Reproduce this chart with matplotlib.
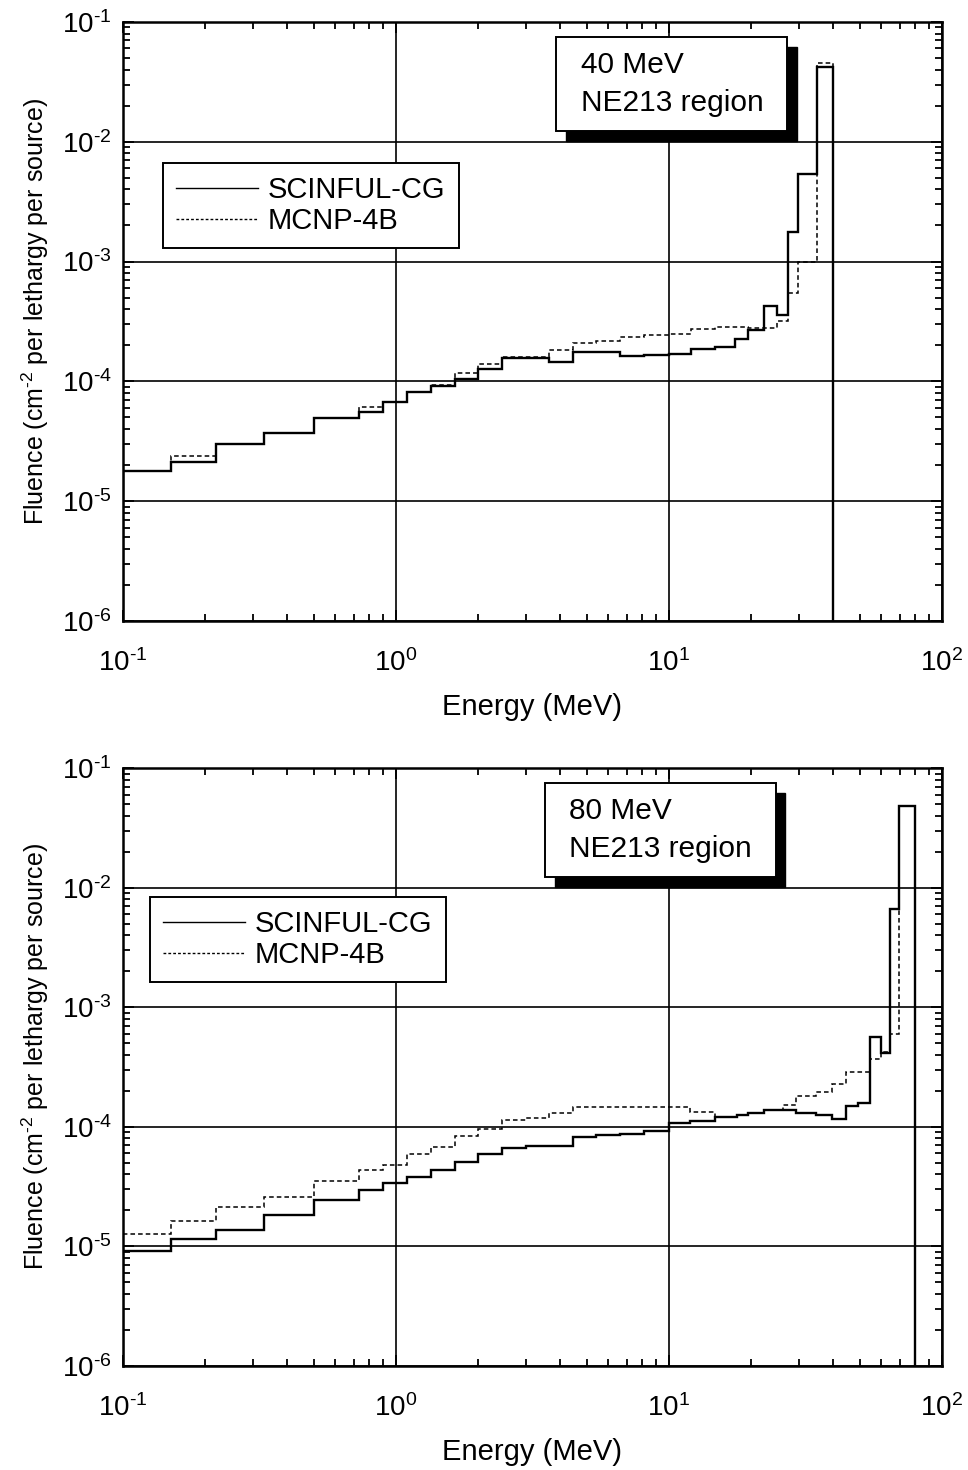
import numpy as np
import matplotlib.pyplot as plt
from matplotlib.patches import Rectangle
from matplotlib.lines import Line2D
from matplotlib.ticker import FuncFormatter

plt.rcParams['font.family'] = ['Liberation Sans', 'DejaVu Sans']
plt.rcParams['mathtext.fontset'] = 'custom'
plt.rcParams['mathtext.rm'] = 'Liberation Sans'
plt.rcParams['mathtext.it'] = 'Liberation Sans:italic'
plt.rcParams['mathtext.bf'] = 'Liberation Sans:bold'
plt.rcParams['axes.unicode_minus'] = False

# 40 MeV panel: bin edges (MeV) and fluence per lethargy
edges_40 = [0.1, 0.15, 0.22, 0.33, 0.5, 0.73, 0.9, 1.1, 1.35, 1.65, 2.0, 2.45, 3.0,
            3.65, 4.45, 5.4, 6.6, 8.1, 10, 12.1, 14.7, 17.4, 19.5, 22.4, 24.9, 27.3,
            29.8, 34.8, 40]
scinful_40 = [1.79e-5, 2.14e-5, 3.0e-5, 3.68e-5, 4.98e-5, 5.58e-5, 6.76e-5, 8.2e-5,
              9.15e-5, 1.04e-4, 1.27e-4, 1.56e-4, 1.56e-4, 1.46e-4, 1.75e-4, 1.75e-4,
              1.63e-4, 1.66e-4, 1.68e-4, 1.85e-4, 1.93e-4, 2.24e-4, 2.68e-4, 4.29e-4,
              3.56e-4, 1.78e-3, 5.38e-3, 4.24e-2]
mcnp_40 = [1.79e-5, 2.38e-5, 3.0e-5, 3.68e-5, 4.98e-5, 6.15e-5, 6.76e-5, 8.2e-5,
           9.3e-5, 1.17e-4, 1.40e-4, 1.60e-4, 1.60e-4, 1.83e-4, 2.07e-4, 2.15e-4,
           2.33e-4, 2.42e-4, 2.49e-4, 2.75e-4, 2.86e-4, 2.86e-4, 2.80e-4, 2.80e-4,
           3.19e-4, 5.5e-4, 1.0e-3, 4.52e-2]

# 80 MeV panel
edges_80 = [0.1, 0.15, 0.22, 0.33, 0.5, 0.73, 0.9, 1.1, 1.35, 1.65, 2.0, 2.45, 3.0,
            3.65, 4.45, 5.4, 6.6, 8.1, 10, 11.9, 13.4, 14.7, 17.7, 19.5, 22.4, 26.1,
            29.3, 34.7, 39.5, 44.4, 49.4, 54.5, 59.6, 64.6, 69.8, 79.6]
scinful_80 = [9.2e-6, 1.15e-5, 1.38e-5, 1.83e-5, 2.45e-5, 2.97e-5, 3.37e-5, 3.79e-5,
              4.39e-5, 5.05e-5, 5.9e-5, 6.7e-5, 6.97e-5, 6.97e-5, 8.17e-5, 8.5e-5,
              8.8e-5, 9.18e-5, 1.07e-4, 1.11e-4, 1.13e-4, 1.22e-4, 1.25e-4, 1.31e-4,
              1.38e-4, 1.38e-4, 1.30e-4, 1.25e-4, 1.17e-4, 1.50e-4, 1.59e-4, 5.6e-4,
              4.12e-4, 6.64e-3, 4.85e-2]
mcnp_80 = [1.27e-5, 1.64e-5, 2.12e-5, 2.57e-5, 3.55e-5, 4.36e-5, 4.83e-5, 5.93e-5,
           6.75e-5, 8.34e-5, 9.6e-5, 1.14e-4, 1.19e-4, 1.30e-4, 1.46e-4, 1.46e-4,
           1.46e-4, 1.46e-4, 1.46e-4, 1.34e-4, 1.34e-4, 1.22e-4, 1.25e-4, 1.31e-4,
           1.38e-4, 1.51e-4, 1.82e-4, 1.97e-4, 2.28e-4, 2.86e-4, 2.86e-4, 3.7e-4,
           4.2e-4, 6.0e-4, 4.85e-2]

labels = ['SCINFUL-CG', 'MCNP-4B']
titles = [['40 MeV', 'NE213 region'], ['80 MeV', 'NE213 region']]


def pow10(v, pos):
    e = int(round(np.log10(v)))
    return r'$10^{\text{%d}}$' % e


fig = plt.figure(figsize=(9.68, 14.7), dpi=100)
ax1 = fig.add_axes([0.127, 0.5776, 0.846, 0.4075])
ax2 = fig.add_axes([0.127, 0.0707, 0.846, 0.4068])


def draw(ax, edges, sc, mc, title, leg_xy, box_x):
    ax.stairs(sc, edges, baseline=1e-7, color='k', lw=1.7)
    ax.stairs(mc, edges, baseline=1e-7, color='k', lw=1.1, ls=(0, (3, 2)))
    ax.set_xscale('log')
    ax.set_yscale('log')
    ax.set_xlim(0.1, 100)
    ax.set_ylim(1e-6, 1e-1)
    ax.xaxis.set_major_formatter(FuncFormatter(pow10))
    ax.yaxis.set_major_formatter(FuncFormatter(pow10))
    ax.grid(True, which='major', color='k', lw=1.2)
    ax.set_axisbelow(False)
    for s in ax.spines.values():
        s.set_linewidth(1.8)
    ax.tick_params(which='both', direction='in', top=True, right=True, labelsize=20)
    ax.tick_params(which='major', length=8, width=1.3)
    ax.tick_params(which='minor', length=5, width=1.3)
    ax.tick_params(axis='x', which='major', pad=20)
    ax.tick_params(axis='y', which='major', pad=8)
    ax.set_xlabel('Energy (MeV)', fontsize=21, labelpad=12)
    ax.set_ylabel('Fluence (cm$^{\\text{-2}}$ per lethargy per source)', fontsize=18,
                  labelpad=8, y=0.517)

    handles = [Line2D([], [], color='k', lw=1.0),
               Line2D([], [], color='k', lw=1.0, ls=(0, (2, 1.5)))]
    leg = ax.legend(handles, labels, loc='upper left', bbox_to_anchor=leg_xy,
                    borderaxespad=0, fontsize=21, handlelength=2.8, handletextpad=0.35,
                    fancybox=False, framealpha=1, edgecolor='k', borderpad=0.45,
                    labelspacing=0.1)
    leg.get_frame().set_linewidth(1.4)

    x0, x1 = box_x
    y0, y1 = 0.818, 0.975
    ax.add_patch(Rectangle((x0 + 0.012, y0 - 0.017), x1 - x0, y1 - y0,
                           transform=ax.transAxes, fc='k', ec='k', zorder=5))
    ax.add_patch(Rectangle((x0, y0), x1 - x0, y1 - y0, transform=ax.transAxes,
                           fc='w', ec='k', lw=1.4, zorder=6))
    ax.text(x0 + 0.03, 0.928, title[0], transform=ax.transAxes, fontsize=21.5,
            va='center', ha='left', zorder=7)
    ax.text(x0 + 0.03, 0.865, title[1], transform=ax.transAxes, fontsize=21.5,
            va='center', ha='left', zorder=7)


draw(ax1, edges_40, scinful_40, mcnp_40, titles[0], (0.049, 0.765), (0.529, 0.811))
draw(ax2, edges_80, scinful_80, mcnp_80, titles[1], (0.033, 0.784), (0.515, 0.797))

fig.savefig('out.png', dpi=100)
